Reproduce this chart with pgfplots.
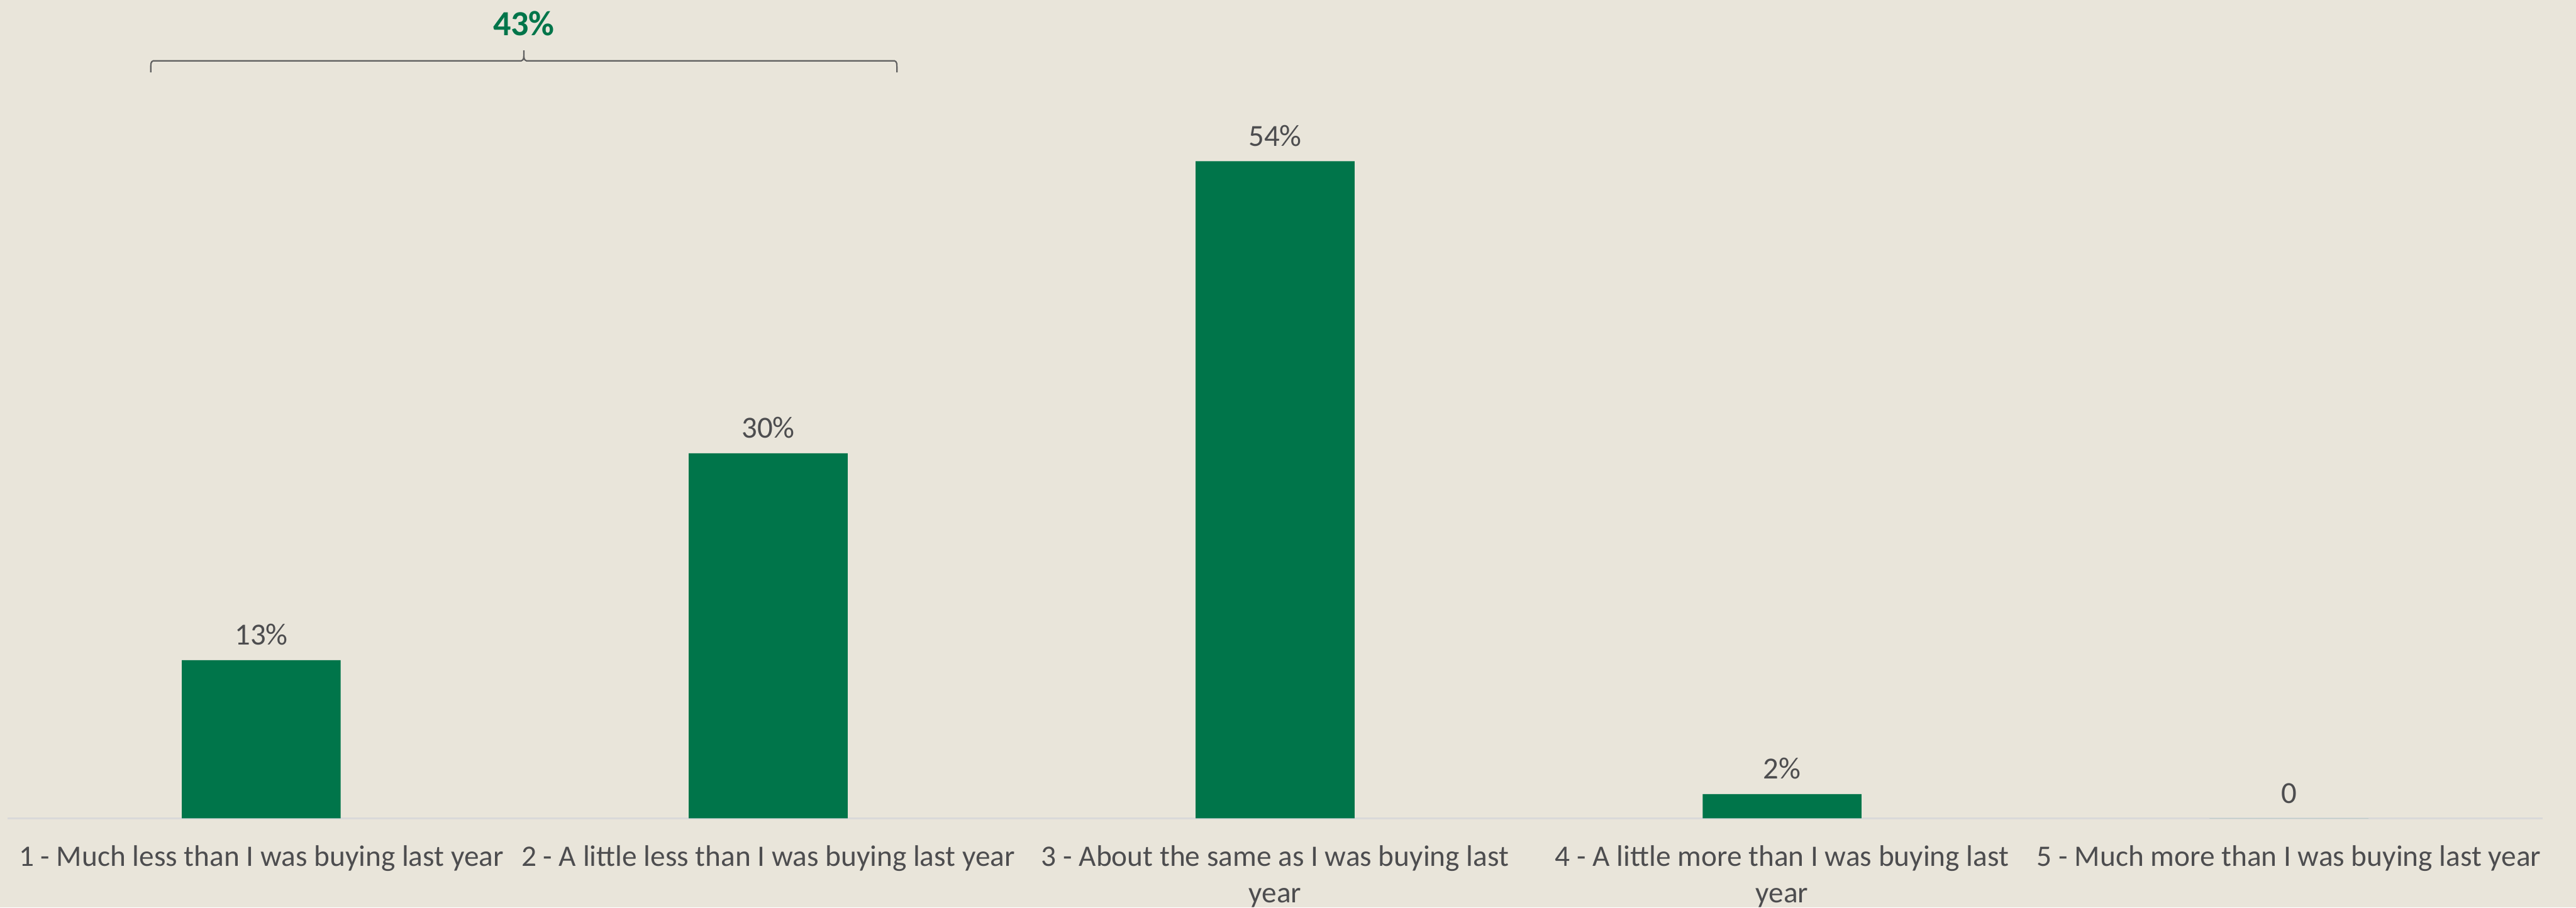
\documentclass[border=0pt]{standalone}
\usepackage{pgfplots}
\pgfplotsset{compat=1.18}
\usepackage{fontspec}
\setmainfont{Carlito}
\definecolor{bg}{RGB}{233,229,218}
\definecolor{sbgreen}{RGB}{0,117,74}
\definecolor{txt}{RGB}{77,77,79}
\definecolor{axgray}{RGB}{217,217,217}
\definecolor{brgray}{RGB}{95,95,95}
\begin{document}
\begin{tikzpicture}
\fill[bg] (0,0) rectangle (840pt,296pt);
\useasboundingbox (0,0) rectangle (840pt,296pt);
\begin{axis}[
  at={(2.545pt,29.09pt)}, anchor=south west,
  scale only axis, width=826.5pt, height=238.15pt,
  xmin=-0.5, xmax=4.5, ymin=0, ymax=60,
  axis x line*=bottom, axis y line=none,
  x axis line style={draw=axgray, line width=0.5pt, -},
  xtick={0,1,2,3,4},
  xticklabels={1 - Much less than I was buying last year,
               2 - A little less than I was buying last year,
               {3 - About the same as I was buying last\\year},
               {4 - A little more than I was buying last\\year},
               5 - Much more than I was buying last year},
  xticklabel style={align=center, font=\fontsize{9.7}{11.8}\selectfont, text=txt,
                    anchor=north, inner sep=0pt, yshift=-8.7pt},
  major tick length=0pt, xtick style={draw=none},
  ybar, bar width=51.8pt,
  nodes near coords, point meta=explicit symbolic,
  every node near coord/.append style={anchor=south, inner sep=0pt, yshift=4.7pt,
                    font=\fontsize{10}{12}\selectfont, text=txt},
  clip=false,
]
\addplot[fill=sbgreen, draw=none] coordinates {
  (0,13) [13\%]
  (1,30) [30\%]
  (2,54) [54\%]
  (3,2) [2\%]
  (4,0) [0]
};
\draw[brgray, line width=0.45pt]
  (axis cs:-0.218,61.3) .. controls (axis cs:-0.218,62.15) .. (axis cs:-0.213,62.25)
  -- (axis cs:0.513,62.25) .. controls (axis cs:0.518,62.35) .. (axis cs:0.518,63.1)
  .. controls (axis cs:0.518,62.35) .. (axis cs:0.523,62.25)
  -- (axis cs:1.249,62.25) .. controls (axis cs:1.254,62.15) .. (axis cs:1.254,61.3);
\node[font=\fontsize{11.5}{14}\selectfont\bfseries, text=sbgreen] at (axis cs:0.518,65.3) {43\%};
\end{axis}
\end{tikzpicture}
\end{document}
